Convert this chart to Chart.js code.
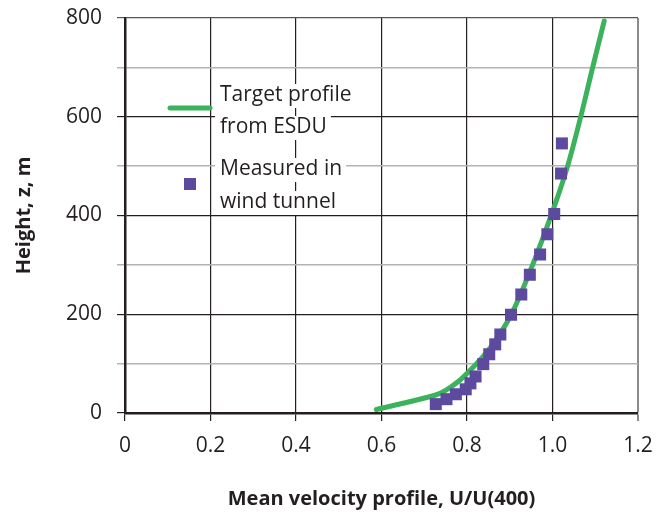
<!DOCTYPE html>
<html>
<head>
<meta charset="utf-8">
<script src="https://cdn.jsdelivr.net/npm/chart.js@4"></script>
<style>
  html, body { margin: 0; padding: 0; background: #fff; }
  #wrap { width: 656px; height: 518px; }
</style>
</head>
<body>
<div id="wrap"><canvas id="profileChart" width="656" height="518"></canvas></div>
<script>
// target profile from ESDU (green line)
const profileU = [0.588, 0.725, 0.752, 0.784, 0.800, 0.830, 0.861, 0.901, 0.947, 1.000, 1.035, 1.066, 1.094, 1.121];
const profileZ = [7, 36, 47, 67, 80, 107, 140, 195, 286, 408, 499, 600, 700, 794];

// measured in wind tunnel (squares)
const measuredU = [0.727, 0.752, 0.774, 0.797, 0.808, 0.820, 0.838, 0.852, 0.866, 0.878, 0.903, 0.927, 0.947, 0.971, 0.988, 1.004, 1.020, 1.022];
const measuredZ = [18, 28, 38, 48, 60, 74, 99, 119, 139, 159, 199, 240, 280, 321, 362, 403, 485, 546];

const legendText = [['Target profile', 'from ESDU'], ['Measured in', 'wind tunnel']];
const xTitle = 'Mean velocity profile, U/U(400)';
const yTitle = 'Height, z, m';

const GREEN = '#3cb25c';
const PURPLE = '#5d4a9f';
const INK = '#231f20';
const LIGHT = '#b3b3b3';
const FONT = "'Open Sans', 'Noto Sans', sans-serif";

// legend sits inside the plot, text on white boxes over the grid
const insideLegend = {
    id: 'insideLegend',
    afterDatasetsDraw(chart) {
        const ctx = chart.ctx;
        const textX = 220;
        const baselines = [[101, 133], [175, 208]];
        ctx.save();
        ctx.font = '21px ' + FONT;
        ctx.textBaseline = 'alphabetic';
        legendText.forEach((lines, i) => {
            lines.forEach((t, j) => {
                const w = ctx.measureText(t).width;
                ctx.fillStyle = '#fff';
                ctx.fillRect(textX - 5, baselines[i][j] - 17, w + 9, 24);
                ctx.fillStyle = INK;
                ctx.fillText(t, textX, baselines[i][j]);
            });
        });
        ctx.strokeStyle = GREEN;
        ctx.lineWidth = 5;
        ctx.lineCap = 'round';
        ctx.beginPath();
        ctx.moveTo(170, 108);
        ctx.lineTo(210, 108);
        ctx.stroke();
        ctx.fillStyle = PURPLE;
        ctx.fillRect(184, 178, 12, 12);
        ctx.restore();
    }
};

new Chart(document.getElementById('profileChart'), {
    type: 'scatter',
    data: {
        datasets: [
            {
                label: 'Measured in wind tunnel',
                data: measuredU.map((u, i) => ({ x: u, y: measuredZ[i] })),
                pointStyle: 'rect',
                pointRadius: 8.5,
                pointBackgroundColor: PURPLE,
                pointBorderWidth: 0,
                order: 0
            },
            {
                label: 'Target profile from ESDU',
                data: profileU.map((u, i) => ({ x: u, y: profileZ[i] })),
                showLine: true,
                borderColor: GREEN,
                borderWidth: 5,
                borderCapStyle: 'round',
                borderJoinStyle: 'round',
                tension: 0.35,
                pointRadius: 0,
                order: 1
            }
        ]
    },
    options: {
        responsive: false,
        animation: false,
        layout: { padding: { top: 18, right: 18, left: 0, bottom: 0 } },
        plugins: {
            legend: { display: false },
            tooltip: { enabled: false }
        },
        scales: {
            x: {
                type: 'linear',
                min: 0,
                max: 1.2,
                afterFit(scale) {
                    scale.height = 105;
                    scale.paddingLeft = 0;
                    scale.paddingRight = 0;
                },
                ticks: {
                    stepSize: 0.2,
                    padding: 12,
                    maxRotation: 0,
                    color: INK,
                    font: { family: FONT, size: 21 },
                    callback: v => (v === 0 ? '0' : v.toFixed(1))
                },
                grid: {
                    color: c => (c.tick && c.tick.value > 1.19 ? '#8a8a8a' : INK),
                    lineWidth: c => (c.tick && c.tick.value > 1.19 ? 2 : 1.2),
                    tickLength: 8
                },
                border: { color: INK, width: 2.5 },
                title: {
                    display: true,
                    text: xTitle,
                    color: INK,
                    font: { family: FONT, size: 20, weight: 'bold' },
                    padding: { top: 0, bottom: 7 }
                }
            },
            y: {
                min: 0,
                max: 800,
                afterFit(scale) {
                    scale.width = 125;
                    scale.paddingTop = 0;
                    scale.paddingBottom = 0;
                },
                ticks: {
                    stepSize: 100,
                    padding: 15,
                    color: INK,
                    font: { family: FONT, size: 21 },
                    callback: v => (v % 200 === 0 ? v : '')
                },
                grid: {
                    color: c => (c.tick && c.tick.value % 200 === 0 ? (c.tick.value === 800 ? '#555' : INK) : LIGHT),
                    lineWidth: c => (c.tick && c.tick.value % 200 === 0 ? 1.2 : 1.5),
                    tickLength: 8
                },
                border: { color: INK, width: 2.5 },
                title: {
                    display: true,
                    text: yTitle,
                    color: INK,
                    font: { family: FONT, size: 20, weight: 'bold' },
                    padding: { top: 12, bottom: 0 }
                }
            }
        }
    },
    plugins: [insideLegend]
});
</script>
</body>
</html>
